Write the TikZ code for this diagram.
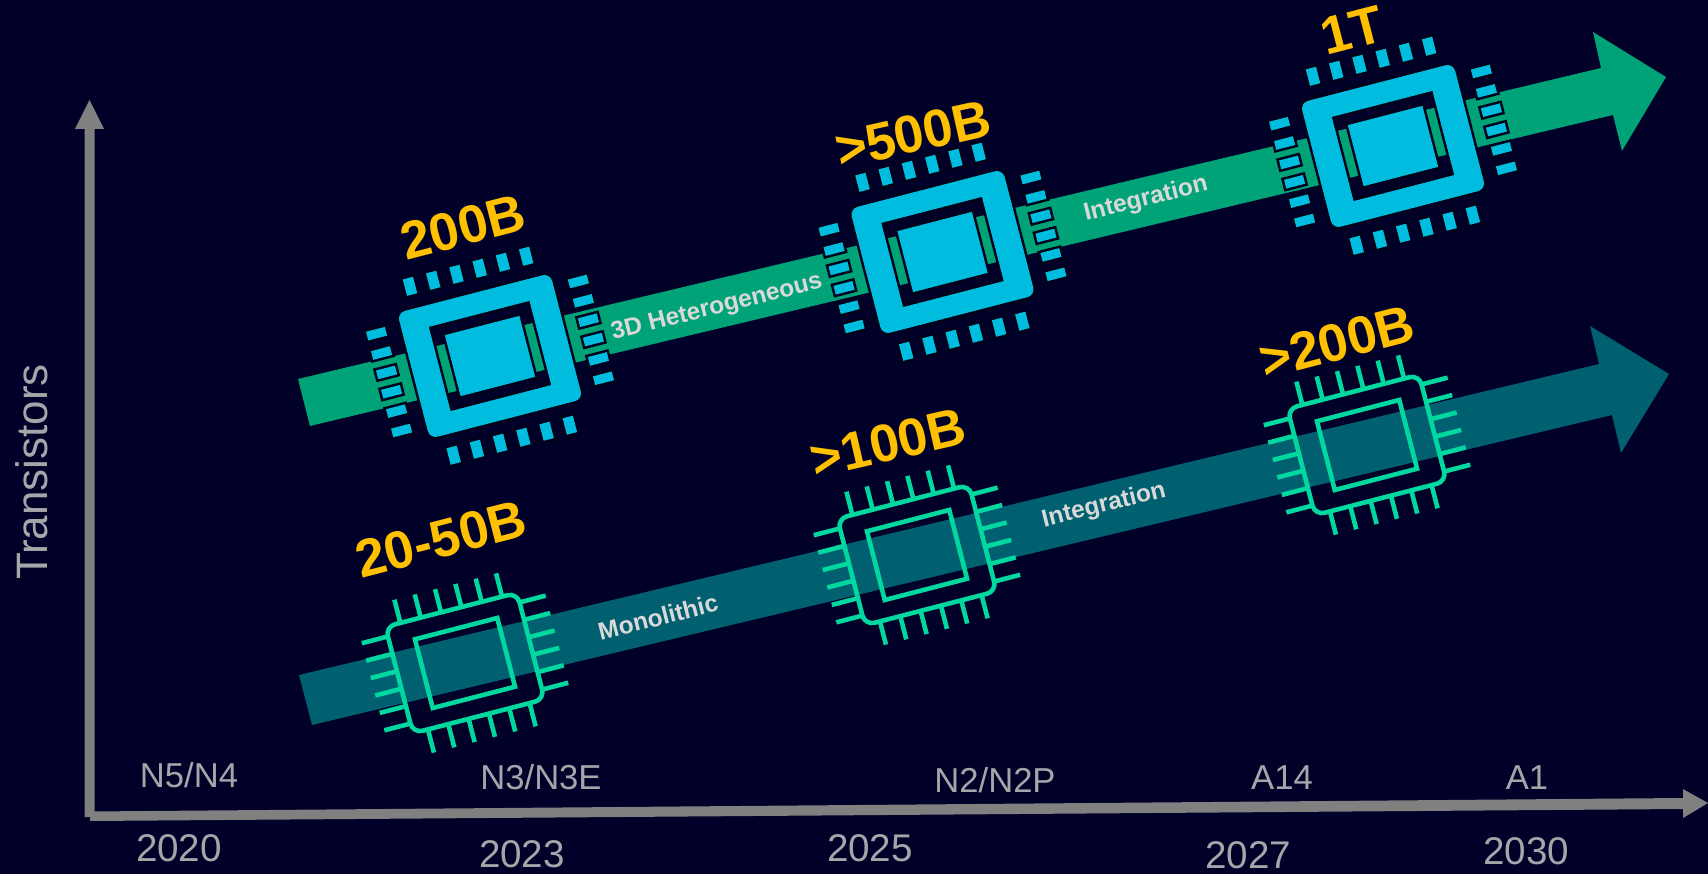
\documentclass[tikz,border=0pt]{standalone}
\usepackage{fontspec}
\setmainfont{Liberation Sans}
\definecolor{bgc}{RGB}{0,0,40}
\definecolor{darkc}{RGB}{0,0,24}
\definecolor{bandgreen}{RGB}{0,163,120}
\definecolor{bandteal}{RGB}{0,96,112}
\definecolor{chipblue}{RGB}{0,188,222}
\definecolor{mint}{RGB}{0,216,160}
\definecolor{axisgray}{RGB}{128,128,128}
\definecolor{labelgray}{RGB}{166,166,170}
\definecolor{bandtext}{RGB}{217,217,217}
\definecolor{amber}{RGB}{255,192,0}
\tikzset{
  solid part/.style={fill=chipblue,preaction={draw=darkc,line width=5pt}},
  outline part/.style={draw=mint,line width=4.6pt},
  amount/.style={font=\fontsize{53}{53}\selectfont\bfseries,text=amber,rotate=14.5,inner sep=0pt},
  bandlabel/.style={font=\fontsize{24.5}{26}\selectfont\bfseries,text=bandtext,rotate=14,inner sep=0pt},
  yearlabel/.style={font=\fontsize{38.6}{40}\selectfont,text=labelgray,inner sep=0pt},
  nodelabel/.style={font=\fontsize{34.6}{36}\selectfont,text=labelgray,inner sep=0pt},
}
\newcommand{\solidchip}[2]{%
\begin{scope}[shift={(#1,#2)},rotate=14.5]
  \foreach \k in {-60,-36,-12,12,36,60}{
    \path[solid part] (\k-5.3,-96) rectangle (\k+5.3,-79);
    \path[solid part] (\k-5.3,78.5) rectangle (\k+5.3,95.5);
  }
  \foreach \k in {-50,-30,-10,10,30,50}{
    \path[solid part] (-114,\k-4.5) rectangle (-94.5,\k+4.5);
    \path[solid part] (94.5,\k-4.5) rectangle (114,\k+4.5);
  }
  \path[fill=chipblue,even odd rule,preaction={draw=darkc,line width=5pt}]
    [rounded corners=8pt] (-79,-65) rectangle (79,65)
    [sharp corners] (-52,-43.5) rectangle (52,43.5);
  \path[solid part] (-38.5,-31.5) rectangle (38.5,31.5);
\end{scope}}
\newcommand{\linechip}[2]{%
\begin{scope}[shift={(#1,#2)},rotate=14.5]
  \foreach \k in {-52.5,-31.5,-10.5,10.5,31.5,52.5}{
    \draw[outline part] (\k,-56) -- (\k,-79);
    \draw[outline part] (\k,56) -- (\k,79);
  }
  \foreach \k in {-45,-27,-9,9,27,45}{
    \draw[outline part] (-68,\k) -- (-95,\k);
    \draw[outline part] (68,\k) -- (95,\k);
  }
  \draw[outline part,rounded corners=10pt] (-68,-55) rectangle (68,55);
  \draw[outline part] (-42.5,-35.5) rectangle (42.5,35.5);
\end{scope}}
\begin{document}
\begin{tikzpicture}[x=1pt,y=-1pt]
\useasboundingbox (0,0) rectangle (1708,874);
\fill[bgc] (0,0) rectangle (1708,874);
% axes
\fill[axisgray] (84.5,817) -- (84.5,129) -- (75,129) -- (89.5,100) -- (104,129) -- (94.5,129) -- (94.5,817) -- cycle;
\fill[axisgray] (90,811.5) -- (1683,798) -- (1683,789) -- (1708,803) -- (1683,818) -- (1683,809) -- (90,821) -- cycle;
% bands
\fill[bandgreen] (298,379) -- (1601,68) -- (1593,32) -- (1666,77) -- (1622,151) -- (1613,115) -- (310,426) -- cycle;
\fill[bandteal] (299,675) -- (1599,364) -- (1590,326) -- (1669,374) -- (1621,453) -- (1612,415) -- (312,725) -- cycle;
% chips
\solidchip{490}{356}
\solidchip{942.5}{252}
\solidchip{1393}{146}
\linechip{465}{663}
\linechip{917}{555}
\linechip{1367}{445}
% amounts
\node[amount] (a1) at (463,227) {200B};
\node[amount,rotate=-2] (a2) at (913,134) {>500B};
\node[amount] (a3) at (1352,30) {1T};
\node[amount] (a4) at (441,539) {20-50B};
\node[amount,rotate=-1.5] (a5) at (888,443) {>100B};
\node[amount] (a6) at (1337,342) {>200B};
% band labels
\node[bandlabel] (b1) at (717,308) {3D Heterogeneous};
\node[bandlabel] (b2) at (1146,199.5) {Integration};
\node[bandlabel] (b3) at (658,617) {Monolithic};
\node[bandlabel] (b4) at (1104,505.6) {Integration};
% axis labels
\node[font=\fontsize{44}{46}\selectfont,text=labelgray,rotate=90,inner sep=0pt] (t) at (31.5,472) {Transistors};
\node[nodelabel] (n1) at (189,775) {N5/N4};
\node[nodelabel] (n2) at (541,777) {N3/N3E};
\node[nodelabel] (n3) at (995,780) {N2/N2P};
\node[nodelabel] (n4) at (1282,777.5) {A14};
\node[nodelabel] (n5) at (1527,777.5) {A1};
\node[yearlabel] (y1) at (179,848) {2020};
\node[yearlabel] (y2) at (522,854) {2023};
\node[yearlabel] (y3) at (870,848.5) {2025};
\node[yearlabel] (y4) at (1248,855) {2027};
\node[yearlabel] (y5) at (1526,851) {2030};
\end{tikzpicture}
\end{document}
